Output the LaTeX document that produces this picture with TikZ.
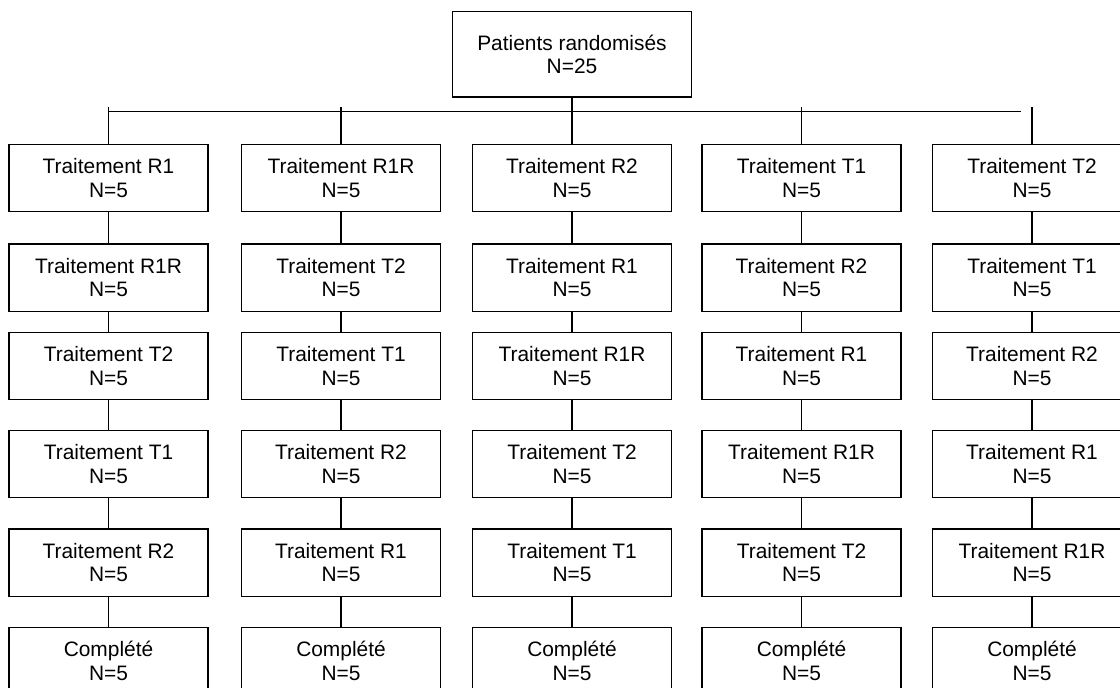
\documentclass[tikz,border=0pt]{standalone}
\usepackage{fontspec}
\setmainfont{Liberation Sans}

\begin{document}
\begin{tikzpicture}[x=0.02cm,y=-0.02cm,
  arm/.style={draw,line width=0.85pt,minimum width=3.98cm,minimum height=1.35cm,inner sep=0pt,align=center,font=\fontsize{11.9}{13.3}\selectfont},
  link/.style={line width=0.75pt}]
\useasboundingbox (0,0) rectangle (1120,687);
\clip (0,0) rectangle (1120,687);
\node[arm,minimum width=4.78cm,minimum height=1.71cm] (top) at (572,54.3) {Patients randomisés\\N=25};
\foreach \c/\x/\a/\b/\d/\e/\f in {1/108.5/R1/R1R/T2/T1/R2,2/341/R1R/T2/T1/R2/R1,3/572/R2/R1/R1R/T2/T1,4/801.5/T1/R2/R1/R1R/T2,5/1032/T2/T1/R2/R1/R1R}
{\node[arm] (t\c1) at (\x,178) {Traitement \a\\N=5};
\node[arm] (t\c2) at (\x,277.5) {Traitement \b\\N=5};
\node[arm] (t\c3) at (\x,366) {Traitement \d\\N=5};
\node[arm] (t\c4) at (\x,464) {Traitement \e\\N=5};
\node[arm] (t\c5) at (\x,562.5) {Traitement \f\\N=5};
\node[arm] (t\c6) at (\x,661) {Complété\\N=5};
\foreach \r [count=\s from 2] in {1,...,5}
  \draw[link] (t\c\r.south) -- (t\c\s.north);
}
% branching bar
\coordinate (bar) at (0,111.7);
\coordinate (barend) at (1021,111.7);
\coordinate (tickrow) at (0,107);
\draw[link] (t11.north |- bar) -- (barend);
\draw[link] (top.south) -- (t31.north);
\foreach \c in {1,2,4,5}
  \draw[link] (t\c1.north |- tickrow) -- (t\c1.north);
\end{tikzpicture}
\end{document}
